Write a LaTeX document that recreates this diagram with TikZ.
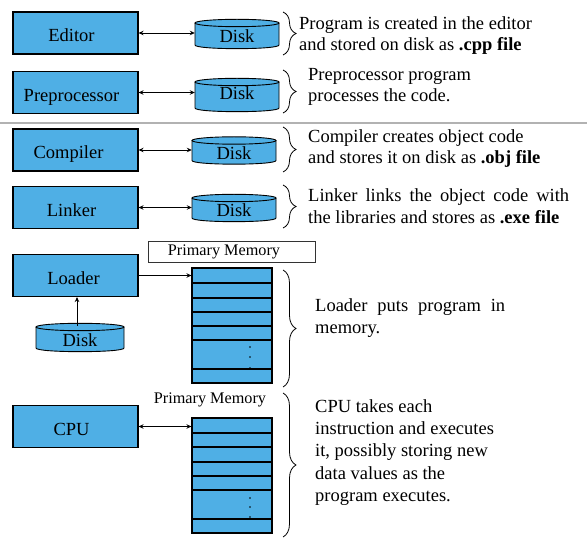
\documentclass[tikz,border=0pt]{standalone}
\usepackage{fontspec}
\setmainfont{Liberation Serif}
\usetikzlibrary{arrows.meta,decorations.pathreplacing}
\definecolor{boxblue}{RGB}{79,175,229}
\newcommand\mkdisk[6]{%
  \path[fill=boxblue] (#2-#5,#3) -- (#2-#5,#4) .. controls (#2-#5,#4+4.9) and (#2+#5,#4+4.9) .. (#2+#5,#4) -- (#2+#5,#3) -- cycle;
  \draw[diskline] (#2-#5,#3) -- (#2-#5,#4) .. controls (#2-#5,#4+4.9) and (#2+#5,#4+4.9) .. (#2+#5,#4) -- (#2+#5,#3);
  \draw[diskline, fill=boxblue] (#2,#3) ellipse [x radius=#5pt, y radius=3.7pt];
  \node[inner sep=0pt, minimum width={2*#5*1pt}, minimum height={(#4-#3+7.4)*1pt},
        text height={2*#6*1pt}, text depth=0pt, font=\fontsize{18.5}{22}\selectfont]
        (#1) at (#2,{(#3+#4)/2}) {Disk};%
}
\begin{document}
\begin{tikzpicture}[x=1pt,y=-1pt,
  proc/.style={draw=black, fill=boxblue, line width=1.1pt, minimum width=125pt,
    minimum height=42pt, inner sep=0pt, text height=18pt, text depth=0pt,
    font=\fontsize{18.5}{22}\selectfont},
  diskline/.style={draw=black, line width=0.9pt},
  mem/.style={draw=black, fill=boxblue, line width=1.1pt, minimum width=80pt, inner sep=0pt},
  memline/.style={draw=black, line width=1.1pt},
  biarrow/.style={line width=0.9pt, {Stealth[length=5pt,width=4.5pt]}-{Stealth[length=5pt,width=4.5pt]}},
  onearrow/.style={line width=0.9pt, -{Stealth[length=5pt,width=4.5pt]}},
  brc/.style={line width=0.8pt, decorate, decoration={brace, amplitude=13pt}},
  txt/.style={anchor=north west, inner sep=0pt, align=left},
]
\useasboundingbox (0,0) rectangle (587,540);

% separator
\draw[gray!60, line width=1.2pt] (0,123) -- (587,123);

% process boxes
\node[proc] (ed) at (75.5,33)    {\hspace*{-8pt}Editor};
\node[proc] (pp) at (75.5,92.5)  {\hspace*{-8pt}Preprocessor};
\node[proc] (cp) at (75.5,150)   {\hspace*{-14pt}Compiler};
\node[proc] (lk) at (75.5,207.5) {\hspace*{-8pt}Linker};
\node[proc] (ld) at (75.5,275.5) {\hspace*{-4pt}Loader};
\node[proc] (cpu) at (75.5,426.5){\hspace*{-8pt}CPU};

% disks
\mkdisk{d1}{237}{23}{45}{42}{9}
\mkdisk{d2}{237}{82}{108}{42}{5}
\mkdisk{d3}{234}{140.5}{160.5}{42}{9.5}
\mkdisk{d4}{234}{198}{218}{42}{9}
\mkdisk{d5}{80}{327}{348}{44}{9.5}

% connectors
\draw[biarrow] (ed.east) -- (ed.east -| d1.west);
\draw[biarrow] (pp.east) -- (pp.east -| d2.west);
\draw[biarrow] (cp.east) -- (cp.east -| d3.west);
\draw[biarrow] (lk.east) -- (lk.east -| d4.west);
\coordinate (d5t) at (77,326);
\draw[onearrow] (d5t) -- (d5t |- ld.south);

% primary memory label box
\node[draw=black!80, line width=0.8pt, minimum width=167pt, minimum height=21pt, inner sep=0pt,
      text height=8pt, text depth=0pt, font=\fontsize{16.2}{20}\selectfont]
      (pm1) at (231.5,251.5) {\hspace*{-15pt}Primary Memory};

% memory 1
\node[mem, minimum height=115pt] (m1) at (232,325.5) {};
\foreach \yy in {283,298,312,326,340,369}
  \draw[memline] (192,\yy) -- (272,\yy);
\foreach \yy in {347,357,368}
  \fill (250,\yy) circle (0.9pt);
\draw[onearrow] (ld.east) -- (ld.east -| m1.west);

% memory 2
\node[anchor=base, inner sep=0pt, font=\fontsize{16.2}{20}\selectfont] (pm2) at (210,403) {Primary Memory};
\node[mem, minimum height=115pt] (m2) at (232,475.5) {};
\foreach \yy in {433,447,462,476,490,519}
  \draw[memline] (192,\yy) -- (272,\yy);
\foreach \yy in {498,507,517}
  \fill (250,\yy) circle (0.9pt);
\draw[biarrow] (cpu.east) -- (cpu.east -| m2.west);

% braces
\draw[brc] (283,12) -- (283,55);
\draw[brc] (283,70) -- (283,113);
\draw[brc] (283,127) -- (283,172);
\draw[brc] (283,185) -- (283,228);
\draw[brc] (283,270) -- (283,387);
\draw[brc] (283,393) -- (283,537);

% descriptions
\node[txt, font=\fontsize{18.5}{21.4}\selectfont] (t1) at (299,14.3)
  {\strut Program is created in the editor\\and stored on disk as \textbf{.cpp file}};
\node[txt, font=\fontsize{18.5}{21}\selectfont] (t2) at (308,65.3)
  {\strut Preprocessor program\\processes the code.};
\node[txt, font=\fontsize{18.5}{21.5}\selectfont] (t3) at (308,127)
  {\strut Compiler creates object code\\and stores it on disk as \textbf{.obj file}};
\node[txt, font=\fontsize{18.5}{22}\selectfont] (t4) at (308,185.6)
  {\strut\makebox[261pt][s]{Linker links the object code with}\\the libraries and stores as \textbf{.exe file}};
\node[txt, font=\fontsize{18.5}{22}\selectfont] (t5) at (315,295.6)
  {\strut\makebox[190pt][s]{Loader puts program in}\\memory.};
\node[txt, font=\fontsize{18.5}{22.3}\selectfont] (t6) at (315,396.4)
  {\strut CPU takes each\\instruction and executes\\it, possibly storing new\\data values as the\\program executes.};
\end{tikzpicture}
\end{document}
